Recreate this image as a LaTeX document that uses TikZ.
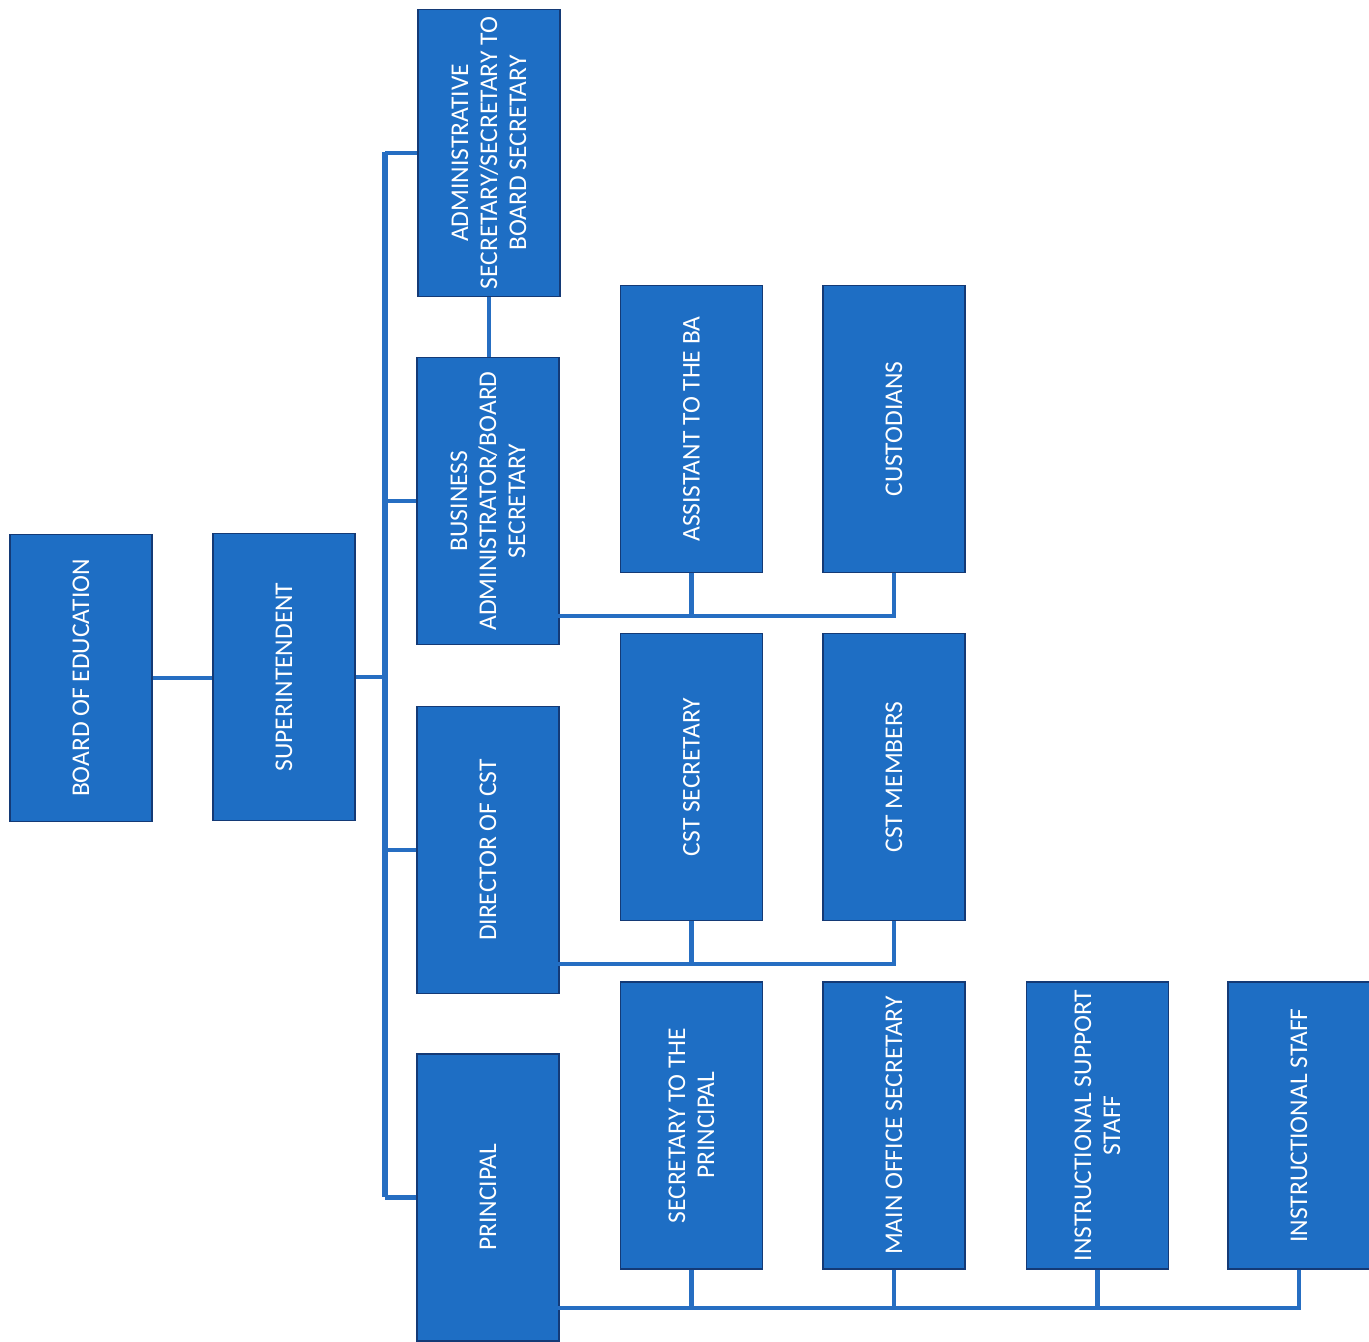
\documentclass[tikz,border=0pt]{standalone}
\usepackage{fontspec}
\setmainfont{Carlito}
\definecolor{boxfill}{RGB}{30,110,196}
\definecolor{boxedge}{RGB}{20,58,118}
\definecolor{linkblue}{RGB}{38,110,194}

\begin{document}
\begin{tikzpicture}[x=1pt,y=-1pt,
  orgbox/.style={draw=boxedge, line width=1.6pt, fill=boxfill, inner sep=0pt,
                 minimum width=142pt, minimum height=287pt},
  orgtext/.style={rotate=90, text=white, align=center, inner sep=0pt,
                  font=\fontsize{25.5}{29}\selectfont},
  link/.style={draw=linkblue, line width=4.5pt},
  bus/.style={draw=linkblue, line width=6pt}]
\useasboundingbox (0,0) rectangle (1369,1342);

% boxes
\node[orgbox] (board)      at (81,678)      {};
\node[orgbox] (super)      at (284,677)     {};
\node[orgbox] (admin)      at (489,153)     {};
\node[orgbox] (business)   at (488,501)     {};
\node[orgbox] (director)   at (488,850)     {};
\node[orgbox] (principal)  at (488,1197.5)  {};
\node[orgbox] (assistba)   at (691.5,429)   {};
\node[orgbox] (custodians) at (894,429)     {};
\node[orgbox] (cstsec)     at (691.5,777)   {};
\node[orgbox] (cstmem)     at (894,777)     {};
\node[orgbox] (secprin)    at (691.5,1125.5){};
\node[orgbox] (mainoffice) at (894,1125.5)  {};
\node[orgbox] (instsup)    at (1097.5,1125.5){};
\node[orgbox] (inststaff)  at (1299,1125.5) {};

% labels, set sideways
\node[orgtext] (t-board)      at (board)      {BOARD OF EDUCATION};
\node[orgtext] (t-super)      at (super)      {SUPERINTENDENT};
\node[orgtext] (t-admin)      at (admin)      {ADMINISTRATIVE\\SECRETARY/SECRETARY TO\\BOARD SECRETARY};
\node[orgtext] (t-business)   at (business)   {BUSINESS\\ADMINISTRATOR/BOARD\\SECRETARY};
\node[orgtext] (t-director)   at (director)   {DIRECTOR OF CST};
\node[orgtext] (t-principal)  at (principal)  {PRINCIPAL};
\node[orgtext] (t-assistba)   at (assistba)   {ASSISTANT TO THE BA};
\node[orgtext] (t-custodians) at (custodians) {CUSTODIANS};
\node[orgtext] (t-cstsec)     at (cstsec)     {CST SECRETARY};
\node[orgtext] (t-cstmem)     at (cstmem)     {CST MEMBERS};
\node[orgtext] (t-secprin)    at (secprin)    {SECRETARY TO THE\\PRINCIPAL};
\node[orgtext] (t-mainoffice) at (mainoffice) {MAIN OFFICE SECRETARY};
\node[orgtext] (t-instsup)    at (instsup)    {INSTRUCTIONAL SUPPORT\\STAFF};
\node[orgtext] (t-inststaff)  at (inststaff)  {INSTRUCTIONAL STAFF};

% spine from the superintendent to the four departments
\coordinate (spinetop) at (385,152);
\coordinate (spinebot) at (385,1197);
\draw[link] (board.east) -- (board.east -| super.west);
\draw[link] (super.east) -- (super.east -| spinetop);
\draw[bus] (spinetop) -- (spinebot);
\foreach \n in {admin,business,director,principal}
  \draw[link] (\n.west -| spinetop) -- (\n.west);
\draw[link] (admin.south) -- (admin.south |- business.north);

% business administrator's staff
\coordinate (babus) at (558,616);
\draw[link] (babus) -| (custodians.south);
\draw[link] (assistba.south) -- (assistba.south |- babus);

% child study team
\coordinate (cstbus) at (558,964);
\draw[link] (cstbus) -| (cstmem.south);
\draw[link] (cstsec.south) -- (cstsec.south |- cstbus);

% school staff under the principal
\coordinate (prbus) at (558,1308);
\draw[link] (prbus) -| (inststaff.south);
\foreach \n in {secprin,mainoffice,instsup}
  \draw[link] (\n.south) -- (\n.south |- prbus);
\end{tikzpicture}
\end{document}
